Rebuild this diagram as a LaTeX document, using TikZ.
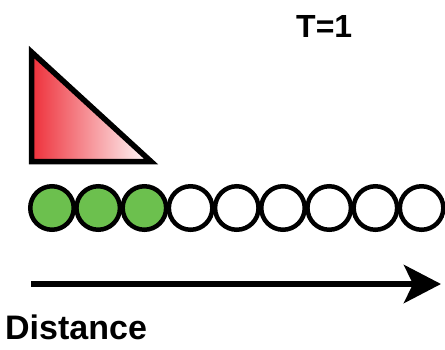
\documentclass[tikz,border=0pt]{standalone}
\usepackage{fontspec}
\setmainfont{Liberation Sans}
\usetikzlibrary{arrows.meta}
\definecolor{ballgreen}{RGB}{108,192,78}
\definecolor{wedgered}{RGB}{238,48,58}
\tikzset{
  ball/.style={circle, draw=black, line width=4.5pt, minimum size=43.5pt, inner sep=0pt},
  label text/.style={font=\fontsize{32}{36}\selectfont\bfseries, inner sep=0pt},
}
\begin{document}
\begin{tikzpicture}[x=1pt,y=-1pt]
\useasboundingbox (0,0) rectangle (445,349);
% wedge
\shade[left color=wedgered, right color=white, shading angle=90]
  (31.5,52) -- (31.5,161.5) -- (151,161.5) -- cycle;
\draw[line width=5.5pt, line join=miter] (31.5,52) -- (31.5,161.5) -- (151,161.5) -- cycle;
% balls
\foreach \i in {1,...,9}{
  \pgfmathsetmacro{\cx}{52+46.2*(\i-1)}
  \ifnum\i<4
    \node[ball, fill=ballgreen] (c\i) at (\cx,208) {};
  \else
    \node[ball, fill=white] (c\i) at (\cx,208) {};
  \fi
}
% arrow
\coordinate (astart) at (31,284);
\coordinate (aend) at (441,284);
\draw[line width=6pt, -{Stealth[length=37pt,width=38pt,inset=9pt]}] (astart) -- (aend);
% labels
\node[label text, anchor=base west] (tlabel) at (296,37) {T=1};
\node[label text, font=\fontsize{34}{38}\selectfont\bfseries, anchor=base west] (dlabel) at (5,339) {Distance};
\end{tikzpicture}
\end{document}
